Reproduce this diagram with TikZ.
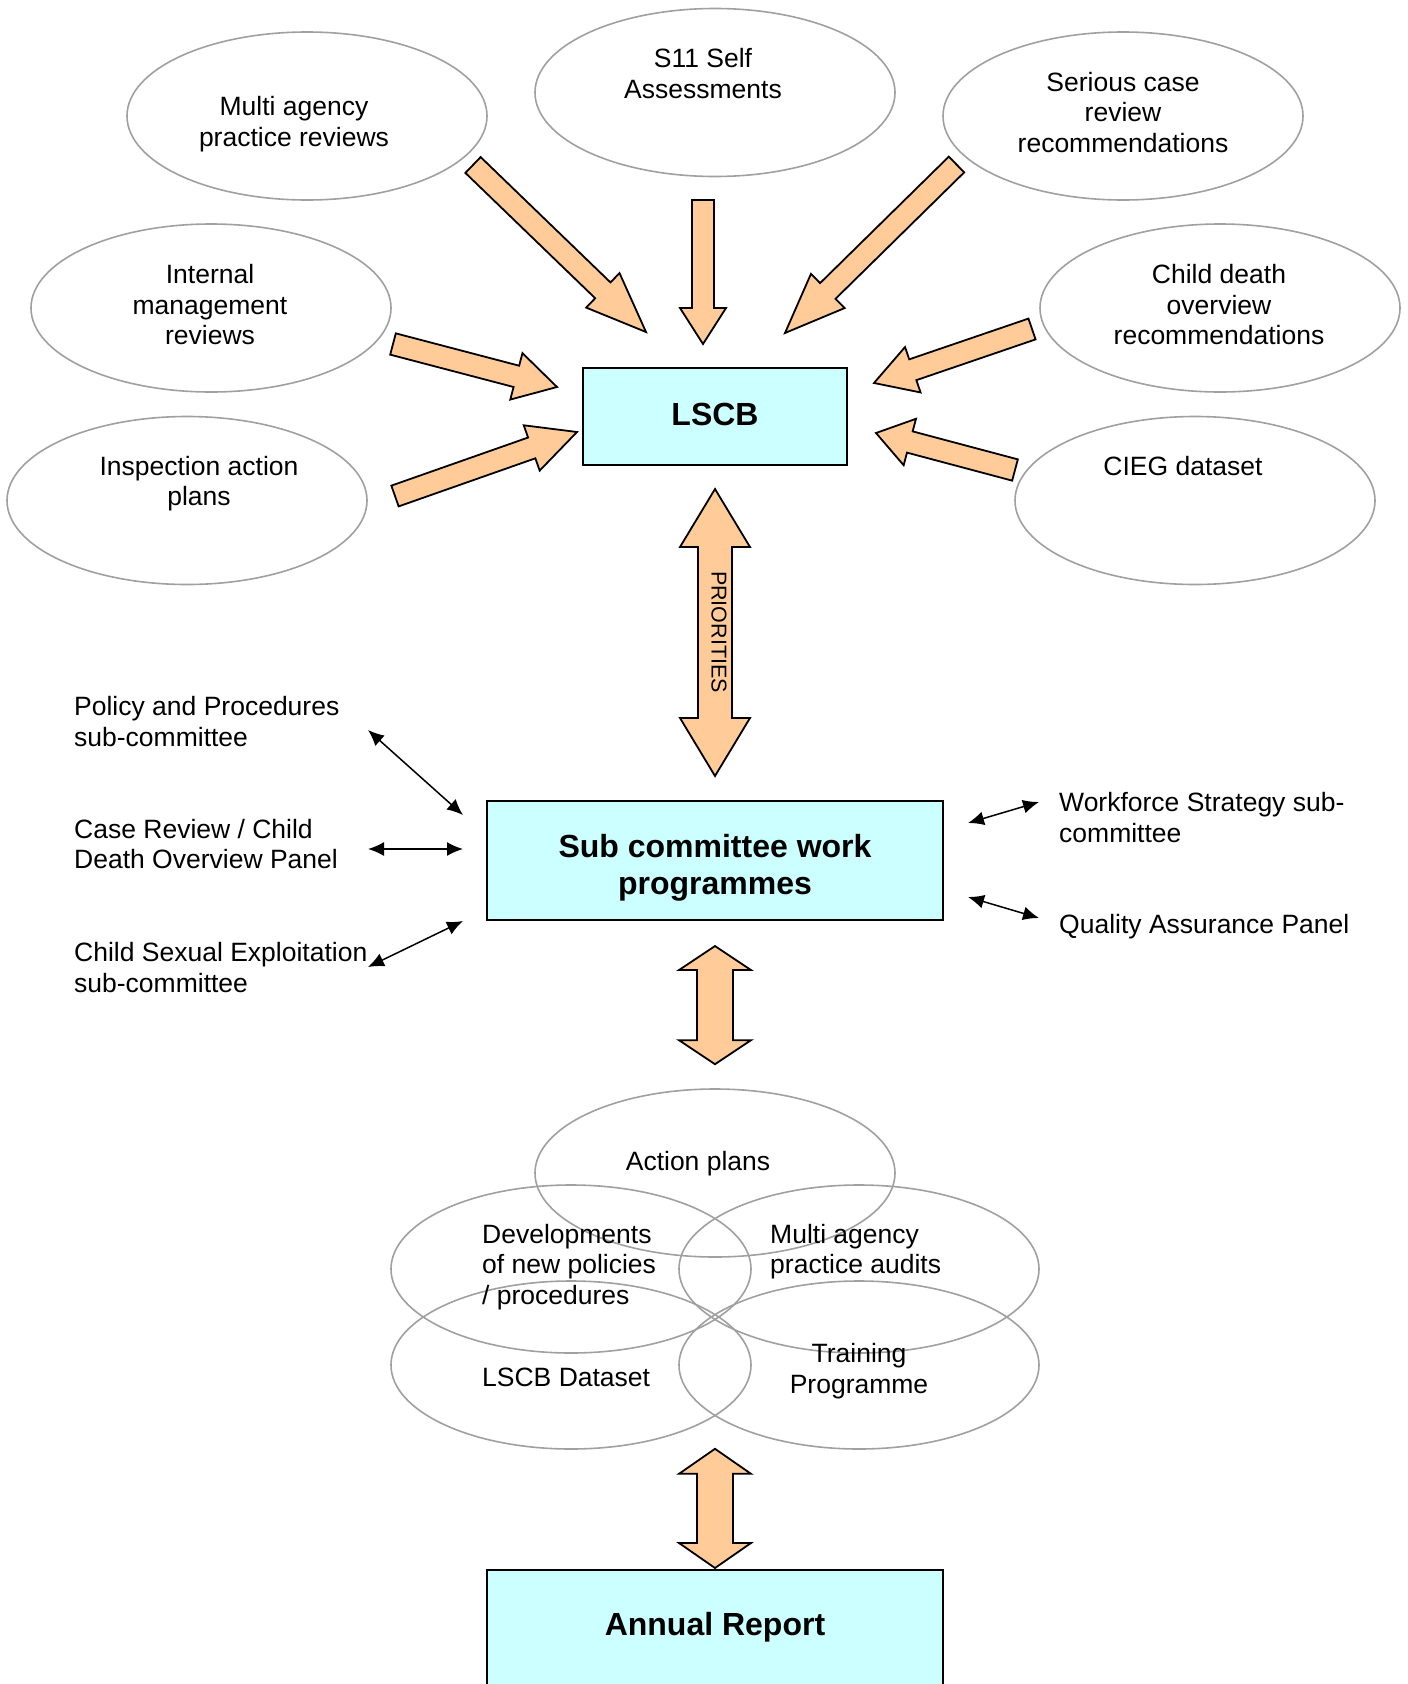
\documentclass[tikz,border=0pt]{standalone}
\usepackage{fontspec}
\setmainfont{Liberation Sans}
\usetikzlibrary{shapes.geometric,arrows.meta,calc}
\definecolor{peach}{HTML}{FFCC99}
\definecolor{lcyan}{HTML}{CCFFFF}
\definecolor{ellgrey}{HTML}{A0A0A0}

% block arrow: #1 tail, #2 tip, #3 shaft half-width, #4 head half-width, #5 head length
\newcommand{\blockarrow}[5]{%
  \coordinate (hb) at ($(#2)!#5!(#1)$);
  \draw[barrow] ($(#1)!#3!90:(#2)$) -- ($(hb)!#3!90:(#2)$) -- ($(hb)!#4!90:(#2)$) -- (#2)
    -- ($(hb)!#4!-90:(#2)$) -- ($(hb)!#3!-90:(#2)$) -- ($(#1)!#3!-90:(#2)$) -- cycle;
}
% double block arrow: #1 end A, #2 end B, #3 shaft half, #4 head half, #5 head length
\newcommand{\dblarrow}[5]{%
  \coordinate (ha) at ($(#1)!#5!(#2)$);
  \coordinate (hb) at ($(#2)!#5!(#1)$);
  \draw[barrow] (#1) -- ($(ha)!#4!90:(#2)$) -- ($(ha)!#3!90:(#2)$) -- ($(hb)!#3!-90:(#1)$)
    -- ($(hb)!#4!-90:(#1)$) -- (#2) -- ($(hb)!#4!90:(#1)$) -- ($(hb)!#3!90:(#1)$)
    -- ($(ha)!#3!-90:(#2)$) -- ($(ha)!#4!-90:(#2)$) -- cycle;
}

\begin{document}
\begin{tikzpicture}[x=1pt,y=-1pt,
  ell/.style={ellipse, draw=ellgrey, line width=1.6pt, minimum width=360pt, minimum height=168pt, inner sep=0pt},
  txt/.style={font=\fontsize{26.5}{30.5}\selectfont, inner sep=0pt, align=center},
  ltxt/.style={txt, align=left, anchor=west},
  box/.style={draw=black, line width=2pt, fill=lcyan, inner sep=0pt},
  boxtxt/.style={font=\bfseries\fontsize{32}{36.5}\selectfont, align=center, inner sep=0pt},
  barrow/.style={draw=black, line width=1.8pt, fill=peach, line join=miter},
  link/.style={black, line width=1.5pt, {Latex[length=16pt,width=14pt]}-{Latex[length=16pt,width=14pt]}},
]
\useasboundingbox (0,0) rectangle (1408,1684);
\fill[white] (0,0) rectangle (1408,1684);

% ---- input ellipses ----
\node[ell] (mar) at (307,116) {};
\node[ell] (s11) at (715,92.5) {};
\node[ell] (scr) at (1123,116) {};
\node[ell] (imr) at (211,308) {};
\node[ell] (cdo) at (1220,308) {};
\node[ell] (iap) at (187,500.5) {};
\node[ell] (cieg) at (1195,500.5) {};

\node[txt] (mar-t) at (294,124) {Multi agency\\practice reviews};
\node[txt] (s11-t) at (703,73.5) {S11 Self\\Assessments};
\node[txt] (scr-t) at (1123,112.5) {Serious case\\review\\recommendations};
\node[txt] (imr-t) at (210,305) {Internal\\management\\reviews};
\node[txt] (cdo-t) at (1219,305) {Child death\\overview\\recommendations};
\node[txt] (iap-t) at (199,483.5) {Inspection action\\plans};
\node[txt] (cieg-t) at (1183,466) {CIEG dataset};

% ---- boxes ----
\node[box, minimum width=264pt, minimum height=97pt] (lscb) at (715,416.5) {};
\node[boxtxt] (lscb-t) at (715,414) {LSCB};
\node[box, minimum width=456pt, minimum height=119pt] (sub) at (715,860.5) {};
\node[boxtxt] (sub-t) at (715,868) {Sub committee work\\programmes};
\node[box, minimum width=456pt, minimum height=120pt, anchor=north] (ar) at (715,1569) {};
\node[boxtxt] (ar-t) at (715,1627) {Annual Report};

% ---- block arrows into LSCB ----
\coordinate (mar-a) at (473,165);   \coordinate (mar-b) at (646,332);
\coordinate (s11-a) at (703,200);   \coordinate (s11-b) at (703,344);
\coordinate (scr-a) at (956.5,164.5); \coordinate (scr-b) at (785,333);
\coordinate (imr-a) at (393,344);   \coordinate (imr-b) at (557,387);
\coordinate (iap-a) at (395,496);   \coordinate (iap-b) at (577,432);
\coordinate (cdo-a) at (1032,329);  \coordinate (cdo-b) at (874,383);
\coordinate (cieg-a) at (1015,470); \coordinate (cieg-b) at (876,433);
\blockarrow{mar-a}{mar-b}{11pt}{24pt}{60pt}
\blockarrow{s11-a}{s11-b}{11pt}{23pt}{36pt}
\blockarrow{scr-a}{scr-b}{11pt}{24pt}{60pt}
\blockarrow{imr-a}{imr-b}{11pt}{24pt}{42pt}
\blockarrow{iap-a}{iap-b}{11pt}{24pt}{48pt}
\blockarrow{cdo-a}{cdo-b}{11pt}{24pt}{41pt}
\blockarrow{cieg-a}{cieg-b}{11pt}{24pt}{35pt}

% ---- priorities double arrow ----
\coordinate (pri-a) at ($(lscb.south)+(0,23)$);
\coordinate (pri-b) at ($(sub.north)+(0,-24)$);
\dblarrow{pri-a}{pri-b}{17pt}{35pt}{58pt}
\node[font=\fontsize{21.5}{24}\selectfont, inner sep=0pt, rotate=-90] (pri-t) at (719,632) {PRIORITIES};

% ---- side sub-committees ----
\node[ltxt] (pol) at (74,721.5) {Policy and Procedures\\sub-committee};
\node[ltxt] (crp) at (74,844) {Case Review / Child\\Death Overview Panel};
\node[ltxt] (cse) at (74,967.5) {Child Sexual Exploitation\\sub-committee};
\node[ltxt] (wfs) at (1059,817.5) {Workforce Strategy sub-\\committee};
\node[ltxt] (qap) at (1059,927) {Quality Assurance Panel};

\coordinate (pol-a) at (368,730);  \coordinate (pol-b) at (463,815);
\coordinate (crp-a) at (368,849);  \coordinate (crp-b) at (463,849);
\coordinate (cse-a) at (368,967);  \coordinate (cse-b) at (463,921);
\coordinate (wfs-a) at (968,823);  \coordinate (wfs-b) at (1039,802);
\coordinate (qap-a) at (968,897);  \coordinate (qap-b) at (1039,918);
\draw[link] (pol-a) -- (pol-b);
\draw[link] (crp-a) -- (crp-b);
\draw[link] (cse-a) -- (cse-b);
\draw[link] (wfs-a) -- (wfs-b);
\draw[link] (qap-a) -- (qap-b);

% ---- work programme cluster ----
\node[ell] (act) at (715,1173) {};
\node[ell] (dev) at (571,1269) {};
\node[ell] (maa) at (859,1269) {};
\node[ell] (dat) at (571,1365) {};
\node[ell] (trn) at (859,1365) {};

\node[txt] (act-t) at (698,1164) {Action plans};
\node[ltxt] (dev-t) at (482,1267) {Developments\\of new policies\\/ procedures};
\node[ltxt] (maa-t) at (770,1251.5) {Multi agency\\practice audits};
\node[ltxt] (dat-t) at (482,1377) {LSCB Dataset};
\node[txt] (trn-t) at (859,1371) {Training\\Programme};

% ---- vertical double arrows ----
\coordinate (mid-a) at ($(sub.south)+(0,25)$);
\coordinate (mid-b) at ($(act.north)+(0,-24)$);
\dblarrow{mid-a}{mid-b}{18pt}{36pt}{24pt}
\coordinate (low-a) at ($(dat.south)+(144,-1)$);
\coordinate (low-b) at ($(ar.north)+(0,-1)$);
\dblarrow{low-a}{low-b}{18pt}{36pt}{25pt}
\end{tikzpicture}
\end{document}
